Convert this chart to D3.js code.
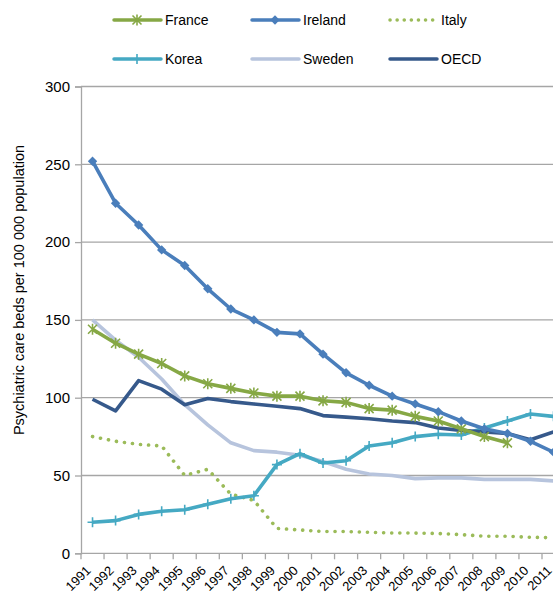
<!DOCTYPE html>
<html>
<head>
<meta charset="utf-8">
<script src="https://cdn.jsdelivr.net/npm/d3@7"></script>
<style>
  body { margin: 0; background: #fff; }
  svg { display: block; font-family: "Liberation Sans", Arial, sans-serif; }
</style>
</head>
<body>
<svg id="chart" width="553" height="593"></svg>
<script>
// years along the x axis
var years = [1991, 1992, 1993, 1994, 1995, 1996, 1997, 1998, 1999, 2000, 2001,
             2002, 2003, 2004, 2005, 2006, 2007, 2008, 2009, 2010, 2011];

// psychiatric care beds per 100 000 population
var france  = [144, 135, 128, 122, 114, 109, 106, 103, 101, 101, 98, 97, 93, 92, 88, 85, 80, 75, 71, null, null];
var ireland = [252, 225, 211, 195, 185, 170, 157, 150, 142, 141, 128, 116, 108, 101, 96, 91, 85, 80, 77, 72, 65];
var italy   = [75, 72, 70, 69, 50, 54, 38, 34, 16, 15, 14, 14, 13.5, 13, 13, 12.7, 12, 11, 11, 10.3, 10];
var korea   = [20, 21, 25, 27, 28, 31.5, 35, 37, 57, 64, 58, 59.5, 69, 71, 75, 76.5, 76, 80.5, 85, 89.5, 88];
var sweden  = [150, 137, 126, 112, 95.5, 82.5, 71, 66, 65, 63, 59, 54, 51, 50, 48, 48.5, 48.5, 47.5, 47.5, 47.5, 46.5];
var oecd    = [99, 91.5, 111, 105.5, 95.5, 99.5, 97.5, 96, 94.5, 93, 88.5, 87.5, 86.5, 85, 84, 80.5, 79, 78, 77, 73, 78];

var yTicks = [0, 50, 100, 150, 200, 250, 300];

var series = [
    { name: "France",  values: france,  color: "#86a845", marker: "star" },
    { name: "Ireland", values: ireland, color: "#4a7ebb", marker: "diamond" },
    { name: "Italy",   values: italy,   color: "#9bbb59", marker: "none", dotted: true },
    { name: "Korea",   values: korea,   color: "#45a9c3", marker: "cross" },
    { name: "Sweden",  values: sweden,  color: "#b7c4dd", marker: "none" },
    { name: "OECD",    values: oecd,    color: "#36598b", marker: "none" }
];

// draw order (back to front)
var drawOrder = ["Italy", "Sweden", "Korea", "OECD", "France", "Ireland"];

var svg = d3.select("#chart");

var plot = { left: 81, top: 86.5, bottom: 553.3 };
var band = 23.05;

var x = d3.scaleBand()
    .domain(years)
    .range([plot.left, plot.left + band * years.length]);

var y = d3.scaleLinear()
    .domain([0, 300])
    .range([plot.bottom, plot.top]);

// horizontal gridlines
svg.append("g")
    .selectAll("line")
    .data(yTicks.filter(function (d) { return d > 0; }))
    .join("line")
    .attr("x1", plot.left)
    .attr("x2", 553)
    .attr("y1", function (d) { return y(d); })
    .attr("y2", function (d) { return y(d); })
    .style("stroke", "#a6a6a6")
    .style("stroke-width", "1.3px");

// y axis
var yAxis = svg.append("g")
    .attr("transform", "translate(" + plot.left + ",0)")
    .call(d3.axisLeft(y).tickValues(yTicks).tickSize(6).tickPadding(5));
yAxis.attr("font-family", null);
yAxis.select(".domain").style("stroke", "#a6a6a6").style("stroke-width", "1.3px");
yAxis.selectAll(".tick line").style("stroke", "#a6a6a6").style("stroke-width", "1.3px");
yAxis.selectAll("text")
    .style("font-size", "15px")
    .style("fill", "#000");

// x axis: ticks sit between categories
var xAxis = svg.append("g")
    .attr("class", "x-axis");
xAxis.append("line")
    .attr("x1", plot.left)
    .attr("x2", 553)
    .attr("y1", plot.bottom)
    .attr("y2", plot.bottom)
    .style("stroke", "#a6a6a6")
    .style("stroke-width", "1.3px");
xAxis.selectAll("line.tick")
    .data(years)
    .join("line")
    .attr("class", "tick")
    .attr("x1", function (d) { return x(d); })
    .attr("x2", function (d) { return x(d); })
    .attr("y1", plot.bottom)
    .attr("y2", plot.bottom + 6)
    .style("stroke", "#a6a6a6")
    .style("stroke-width", "1.3px");
xAxis.selectAll("text")
    .data(years)
    .join("text")
    .attr("transform", function (d) {
        return "translate(" + (x(d) + x.bandwidth() / 2 - 1) + "," + (plot.bottom + 18) + ") rotate(-45)";
    })
    .attr("text-anchor", "end")
    .style("font-size", "13px")
    .text(function (d) { return d; });

// y axis title
svg.append("text")
    .attr("transform", "translate(23.5,290) rotate(-90)")
    .attr("text-anchor", "middle")
    .style("font-size", "14.5px")
    .text("Psychiatric care beds per 100 000 population");

// lines
var line = d3.line()
    .defined(function (d) { return d != null; })
    .x(function (d, i) { return x(years[i]) + x.bandwidth() / 2; })
    .y(function (d) { return y(d); });

function drawMarker(g, type, cx, cy, color)
{
    if (type === "diamond") {
        g.append("path")
            .attr("d", d3.symbol().type(d3.symbolSquare).size(44)())
            .attr("transform", "translate(" + cx + "," + cy + ") rotate(45)")
            .style("fill", color);
    } else if (type === "star") {
        // asterisk-like marker
        var s = 4.5;
        var p = "M" + (-s) + "," + (-s) + "L" + s + "," + s +
                "M" + (-s) + "," + s + "L" + s + "," + (-s) +
                "M0," + (-s - 1) + "L0," + (s + 1);
        g.append("path")
            .attr("d", p)
            .attr("transform", "translate(" + cx + "," + cy + ")")
            .style("stroke", color)
            .style("stroke-width", "1.6px")
            .style("fill", "none");
    } else if (type === "cross") {
        var c = 5;
        g.append("path")
            .attr("d", "M0," + (-c) + "L0," + c + "M" + (-c) + ",0L" + c + ",0")
            .attr("transform", "translate(" + cx + "," + cy + ")")
            .style("stroke", color)
            .style("stroke-width", "1.6px")
            .style("fill", "none");
    }
}

drawOrder.forEach(function (name) {
    var s = series.filter(function (d) { return d.name === name; })[0];
    var g = svg.append("g");

    g.append("path")
        .datum(s.values)
        .attr("d", line)
        .style("fill", "none")
        .style("stroke", s.color)
        .style("stroke-width", "3.6px")
        .style("stroke-linecap", s.dotted ? "round" : "butt")
        .style("stroke-linejoin", "round")
        .style("stroke-dasharray", s.dotted ? "0.1,8" : null);

    s.values.forEach(function (v, i) {
        if (v == null) return;
        drawMarker(g, s.marker, x(years[i]) + x.bandwidth() / 2, y(v), s.color);
    });
});

// legend
var legendRows = [
    [{ s: "France", lx: 114 }, { s: "Ireland", lx: 252 }, { s: "Italy", lx: 390 }],
    [{ s: "Korea", lx: 114 }, { s: "Sweden", lx: 252 }, { s: "OECD", lx: 390 }]
];
var legendY = [20, 59];

legendRows.forEach(function (row, r) {
    row.forEach(function (item) {
        var s = series.filter(function (d) { return d.name === item.s; })[0];
        var g = svg.append("g");
        var ly = legendY[r];
        g.append("line")
            .attr("x1", item.lx)
            .attr("x2", item.lx + 47)
            .attr("y1", ly)
            .attr("y2", ly)
            .style("stroke", s.color)
            .style("stroke-width", "3.5px")
            .style("stroke-linecap", "round")
            .style("stroke-dasharray", s.dotted ? "0.1,7" : null);
        drawMarker(g, s.marker, item.lx + 23, ly, s.color);
        g.append("text")
            .attr("x", item.lx + 51)
            .attr("y", ly)
            .attr("dy", "0.35em")
            .style("font-size", "14px")
            .text(s.name);
    });
});
</script>
</body>
</html>
